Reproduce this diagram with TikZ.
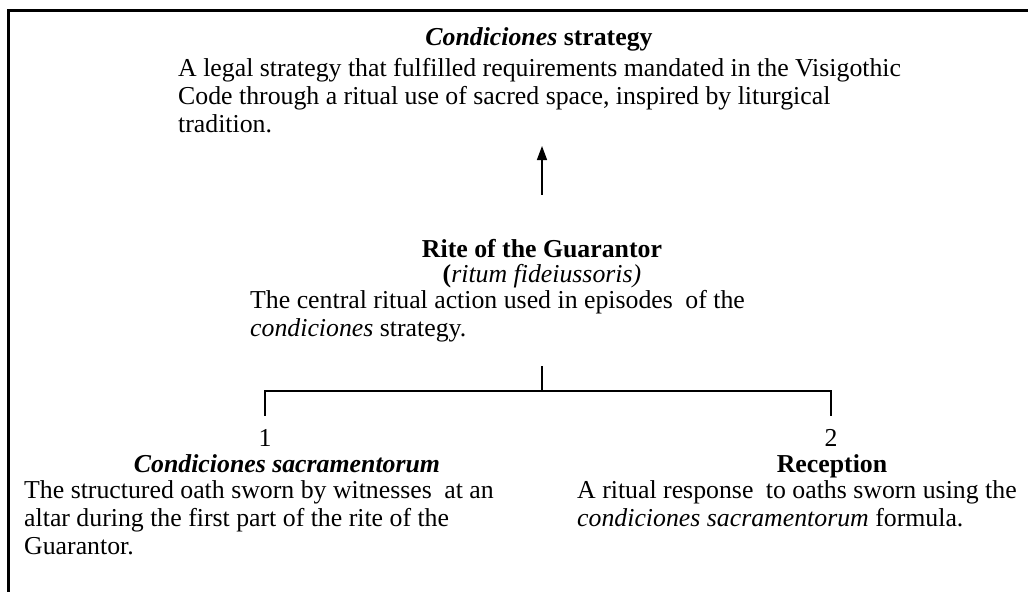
\documentclass[tikz,border=0pt]{standalone}
\usepackage{fontspec}
\setmainfont{Liberation Serif}
\usetikzlibrary{positioning,arrows.meta}
\newcommand{\bodysize}{\fontsize{25.8}{28}\selectfont}
\newcommand{\stemlength}{25}
\newcommand{\wide}{\hspace{6pt}}
\tikzset{
    common/.style={inner sep=0pt, font=\bodysize},
    heading/.style={common, anchor=base, font=\bodysize\bfseries},
    para/.style={common, anchor=north west, align=left},
    number/.style={common, anchor=base},
    link/.style={line width=1.4pt},
    frame/.style={line width=3pt}
}

\begin{document}
\begin{tikzpicture}[x=1pt, y=-1pt]
    \useasboundingbox (0,0) rectangle (1028,592);
    \draw[frame] (1028,10) -| (8,592);

    % top: the strategy
    \node[heading] (strategy) at (539,45) {\textit{Condiciones} strategy};
    \node[para] (strategytext) at (178,58) {A legal strategy that fulfilled requirements mandated in the Visigothic\\ Code through a ritual use of sacred space, inspired by liturgical\\ tradition.};

    % middle: the rite
    \node[heading] (rite) at (542,257) {Rite of the Guarantor};
    \node[number] (ritum) at (542,282) {\textbf{(}\textit{ritum fideiussoris)}};
    \node[para] (ritetext) at (250,290) {The central ritual action used in episodes\wide{} of the\\ \textit{condiciones} strategy.};
    \coordinate (tip) at (542,146);
    \draw[link, -{Triangle[length=14pt, width=10pt]}] ([yshift=44pt]rite.north) -- (tip);

    % bottom: the two parts
    \node[number] (one) at (265,446) {1};
    \node[number] (two) at (831,446) {2};
    \node[heading] (oath) at (287,472) {\textit{Condiciones sacramentorum}};
    \node[heading] (reception) at (832,472) {Reception};
    \node[para] (oathtext) at (24,480) {The structured oath sworn by witnesses\wide{} at an\\ altar during the first part of the rite of the\\ Guarantor.};
    \node[para] (receptiontext) at (577,480) {A ritual response\wide{} to oaths sworn using the\\ \textit{condiciones sacramentorum} formula.};

    \coordinate (split) at (542,391);
    \draw[link] (split) -- ++(0,-\stemlength);
    \draw[link] ([yshift=13pt]one.north) |- (split) -| ([yshift=13pt]two.north);
\end{tikzpicture}
\end{document}
